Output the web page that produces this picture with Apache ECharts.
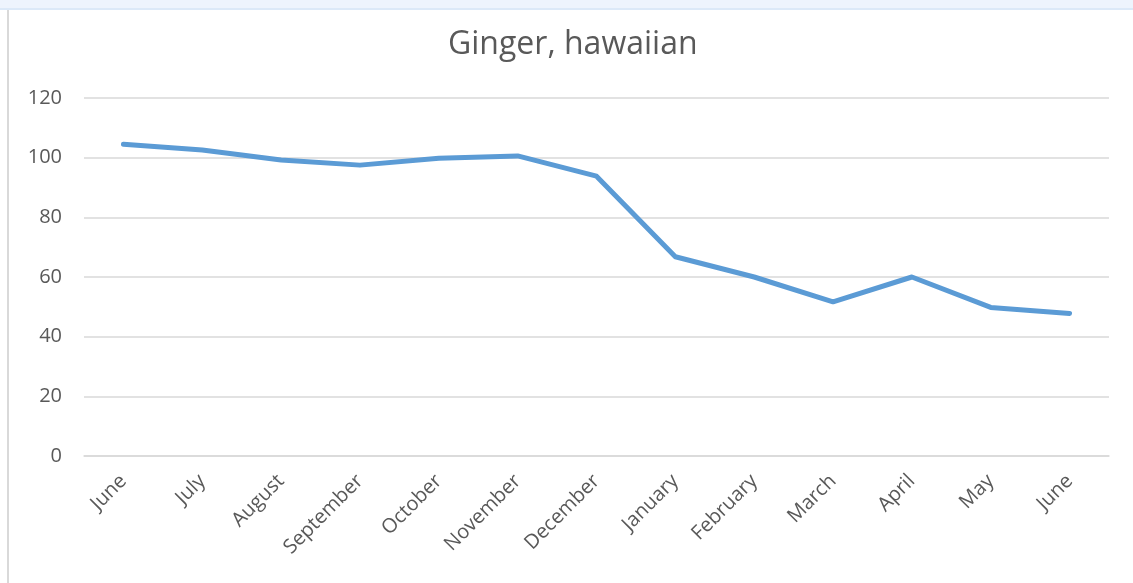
<!DOCTYPE html>
<html>
<head>
<meta charset="utf-8">
<script src="https://cdn.jsdelivr.net/npm/echarts@6/dist/echarts.min.js"></script>
<style>
  html, body { margin: 0; padding: 0; background: #fff; }
  .topbar {
    position: absolute; left: 0; top: 0; width: 1133px; height: 8px;
    background: #eef4fd; border-bottom: 2px solid #dce9f8;
  }
  .sideline {
    position: absolute; left: 7px; top: 10px; width: 2px; height: 573px;
    background: #d9d9d9;
  }
  #chart { position: absolute; left: 0; top: 0; width: 1133px; height: 583px; }
</style>
</head>
<body>
<div class="topbar"></div>
<div class="sideline"></div>
<div id="chart"></div>
<script>
// months on the x axis
var months = ['June', 'July', 'August', 'September', 'October', 'November', 'December',
  'January', 'February', 'March', 'April', 'May', 'June'];
// price values
var prices = [104.5, 102.6, 99.2, 97.5, 99.8, 100.6, 93.8, 66.8, 60.0, 51.7, 60.0, 49.8, 47.8];

var chartDom = document.getElementById('chart');
var myChart = echarts.init(chartDom);
var option;

option = {
  animation: false,
  title: {
    text: 'Ginger, hawaiian',
    left: 443,
    top: 24,
    textStyle: {
      fontFamily: 'Open Sans',
      fontSize: 32,
      fontWeight: 'normal',
      color: '#595959'
    }
  },
  grid: {
    left: 84,
    right: 24,
    top: 98,
    bottom: 127
  },
  xAxis: {
    type: 'category',
    data: months,
    axisLine: { show: true, lineStyle: { color: '#d9d9d9', width: 1.5 } },
    axisTick: { show: false },
    axisLabel: {
      interval: 0,
      rotate: 45,
      margin: 22,
      fontFamily: 'Open Sans',
      fontSize: 20,
      color: '#595959'
    }
  },
  yAxis: {
    type: 'value',
    min: 0,
    max: 120,
    interval: 20,
    axisLine: { show: false },
    axisTick: { show: false },
    axisLabel: {
      margin: 22,
      fontFamily: 'Open Sans',
      fontSize: 20,
      color: '#595959'
    },
    splitLine: { lineStyle: { color: '#d9d9d9', width: 1.5 } }
  },
  series: [
    {
      type: 'line',
      data: prices,
      symbol: 'none',
      lineStyle: { color: '#5b9bd5', width: 5, cap: 'round', join: 'round' }
    }
  ]
};

option && myChart.setOption(option);
</script>
</body>
</html>
